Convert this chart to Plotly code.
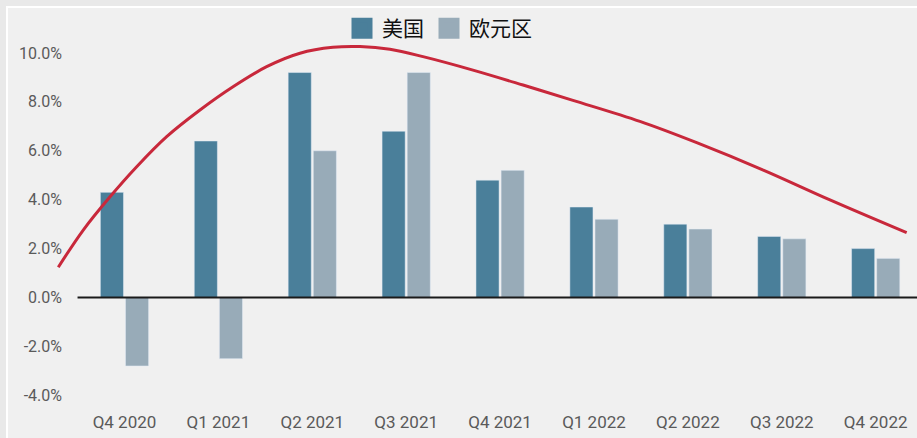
import plotly.graph_objects as go

# Quarterly growth, %
quarters = ["Q4 2020", "Q1 2021", "Q2 2021", "Q3 2021", "Q4 2021",
            "Q1 2022", "Q2 2022", "Q3 2022", "Q4 2022"]
us_values = [4.3, 6.4, 9.2, 6.8, 4.8, 3.7, 3.0, 2.5, 2.0]
ez_values = [-2.8, -2.5, 6.0, 9.2, 5.2, 3.2, 2.8, 2.4, 1.6]

# Trend curve (x in quarter index units, y in %)
trend_x = [-0.705, -0.439, -0.154, 0.130, 0.449, 0.804, 1.156, 1.514, 1.869, 2.220,
           2.508, 2.827, 3.179, 3.711, 4.244, 4.776, 5.489, 6.094, 6.803, 7.513, 8.330]
trend_y = [1.24, 2.76, 4.12, 5.35, 6.58, 7.67, 8.62, 9.44, 9.99, 10.23,
           10.26, 10.15, 9.85, 9.30, 8.69, 8.06, 7.20, 6.33, 5.21, 3.99, 2.65]

y_ticks = [-4, -2, 0, 2, 4, 6, 8, 10]
y_tick_labels = [f"{v:.1f}%" for v in y_ticks]

US_COLOR = "#4a7f9a"
EZ_COLOR = "#98abb8"
TREND_COLOR = "#c8283b"

x_idx = list(range(len(quarters)))

fig = go.Figure()
fig.add_trace(go.Bar(x=x_idx, y=us_values, name="美国", marker_color=US_COLOR,
                     showlegend=False, legendgroup="us"))
fig.add_trace(go.Bar(x=x_idx, y=ez_values, name="欧元区", marker_color=EZ_COLOR,
                     showlegend=False, legendgroup="ez"))
fig.add_trace(go.Scatter(x=trend_x, y=trend_y, mode="lines", showlegend=False,
                         line=dict(color=TREND_COLOR, width=3, shape="spline", smoothing=1.0)))

# legend swatches (larger squares than the default bar swatch)
for name, color, grp in [("美国", US_COLOR, "us"), ("欧元区", EZ_COLOR, "ez")]:
    fig.add_trace(go.Scatter(x=[None], y=[None], mode="markers", name=name,
                             legendgroup=grp,
                             marker=dict(symbol="square", size=16, color=color,
                                         line=dict(color=color, width=5))))

W, H = 917, 438
ML, MR, MT, MB = 55, 0, 7, 28
pw = W - ML - MR
ph = H - MT - MB

def px_to_paper_x(px):
    return (px - ML) / pw

def px_to_paper_y(py):
    return (H - MB - py) / ph

# zero line from the first category edge
fig.add_shape(type="line", xref="x", yref="y", x0=-0.5, x1=9, y0=0, y1=0,
              line=dict(color="#1a1a1a", width=2), layer="above")

# inner panel with a thin white border
fig.add_shape(type="rect", xref="paper", yref="paper",
              x0=px_to_paper_x(7), x1=px_to_paper_x(W + 20),
              y0=px_to_paper_y(H + 20), y1=px_to_paper_y(7),
              line=dict(color="#ffffff", width=2), fillcolor="#f0f0f0", layer="below")

fig.update_layout(
    width=W, height=H,
    margin=dict(l=ML, r=MR, t=MT, b=MB),
    paper_bgcolor="#e9e9e9",
    plot_bgcolor="rgba(0,0,0,0)",
    barmode="group",
    bargap=0.465,
    bargroupgap=0.08,
    font=dict(family="Roboto, sans-serif", color="#5a5a5a", size=16),
    legend=dict(orientation="h", x=px_to_paper_x(342), xanchor="left",
                y=px_to_paper_y(28.5), yanchor="middle",
                font=dict(family="Noto Sans CJK SC", size=21, color="#111111"),
                bgcolor="rgba(0,0,0,0)", itemwidth=30, tracegroupgap=0),
    xaxis=dict(range=[-0.74, 8.44], tickmode="array", tickvals=x_idx, ticktext=quarters,
               showgrid=False, zeroline=False, showline=False, ticks="",
               tickfont=dict(size=17, color="#5a5a5a")),
    yaxis=dict(range=[-4.6, 11.88], tickmode="array", tickvals=y_ticks, ticktext=y_tick_labels,
               showgrid=False, zeroline=False, showline=False, ticks="",
               ticklabelstandoff=-8,
               tickfont=dict(size=16, color="#5a5a5a")),
)

fig.write_html("out.html")
